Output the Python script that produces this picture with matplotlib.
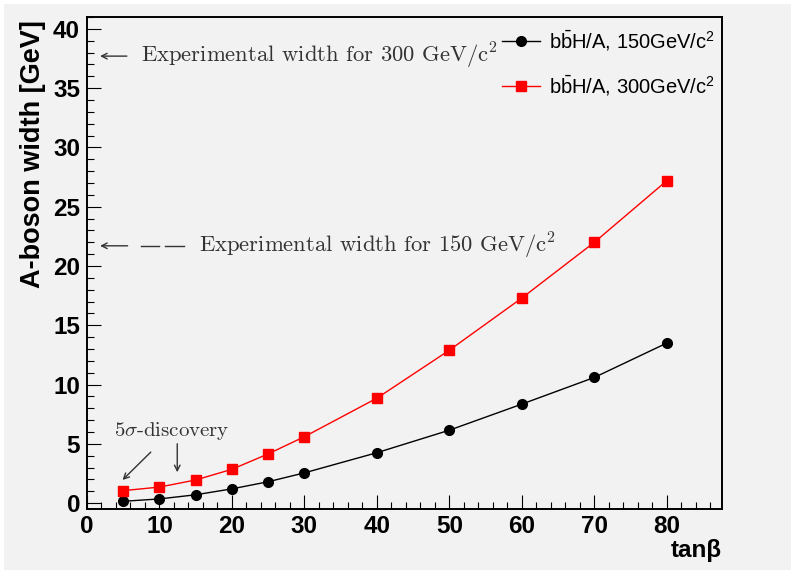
import matplotlib
matplotlib.use("Agg")
import matplotlib.pyplot as plt
from matplotlib.patches import Rectangle
from matplotlib.font_manager import FontProperties
from matplotlib.ticker import MultipleLocator

# ---- data ----
tanb = [5, 10, 15, 20, 25, 30, 40, 50, 60, 70, 80]
w150 = [0.15, 0.35, 0.7, 1.2, 1.8, 2.55, 4.25, 6.15, 8.35, 10.6, 13.5]
w300 = [1.05, 1.35, 1.95, 2.85, 4.15, 5.6, 8.85, 12.9, 17.3, 22.0, 27.2]
label150 = r"b$\bar{\mathrm{b}}$H/A, 150GeV/c$^{2}$"
label300 = r"b$\bar{\mathrm{b}}$H/A, 300GeV/c$^{2}$"
exp300_y = 37.7
exp150_y = 21.7

plt.rcParams['mathtext.fontset'] = 'custom'
plt.rcParams['mathtext.rm'] = 'Liberation Sans'
plt.rcParams['mathtext.it'] = 'Liberation Sans:italic'
plt.rcParams['mathtext.bf'] = 'Liberation Sans:bold'

W, H = 791, 570
fig = plt.figure(figsize=(W / 100, H / 100), dpi=100, facecolor='white')
bg = '#f2f2f2'
fig.patches.append(Rectangle((4 / W, 0), 1, 1 - 4 / H, transform=fig.transFigure,
                             facecolor=bg, edgecolor='none', zorder=-10))

ax = fig.add_axes([87 / W, 1 - 509 / H, (722 - 87) / W, (509 - 17) / H])
ax.set_facecolor(bg)
ax.set_xlim(0, 87.6)
ax.set_ylim(-0.5, 41)

ax.plot(tanb, w150, color='black', lw=1.0, marker='o', ms=7, label=label150)
ax.plot(tanb, w300, color='red', lw=1.0, marker='s', ms=7, mec='red', label=label300)

for s in ax.spines.values():
    s.set_linewidth(1.4)

ax.xaxis.set_major_locator(MultipleLocator(10))
ax.xaxis.set_minor_locator(MultipleLocator(2))
ax.yaxis.set_major_locator(MultipleLocator(5))
ax.yaxis.set_minor_locator(MultipleLocator(1))
ax.tick_params(which='both', direction='in', top=False, right=False, width=0.8)
ax.tick_params(which='major', length=10)
ax.tick_params(which='minor', length=5)
ax.tick_params(axis='y', which='major', pad=5)
ax.tick_params(axis='x', which='major', pad=4)
for lab in ax.get_xticklabels() + ax.get_yticklabels():
    lab.set_fontfamily('Liberation Sans')
    lab.set_fontweight('bold')
    lab.set_fontsize(17.5)

fig.text(33 / W, 1 - 154 / H, 'A-boson width [GeV]', rotation=90, ha='center', va='center',
         fontfamily='Liberation Sans', fontweight='bold', fontsize=19.5)
fig.text(722 / W, 1 - 550 / H, 'tanβ', ha='right', va='center',
         fontfamily='Liberation Sans', fontweight='bold', fontsize=17.5)

gray = '#333333'
afs = 16.3
# experimental width 300
ax.annotate('', xy=(1.8, exp300_y), xytext=(5.5, exp300_y),
            arrowprops=dict(arrowstyle='->', color=gray, lw=1.0, shrinkA=0, shrinkB=0))
ax.text(7.5, exp300_y, r'Experimental width for 300 GeV/c$^2$', ha='left', va='center',
        fontfamily='cmr10', math_fontfamily='cm', fontsize=afs, color=gray)
# experimental width 150
ax.annotate('', xy=(1.8, exp150_y), xytext=(5.6, exp150_y),
            arrowprops=dict(arrowstyle='->', color=gray, lw=1.0, shrinkA=0, shrinkB=0))
ax.plot([7.5, 10.0], [exp150_y, exp150_y], color=gray, lw=1.0)
ax.plot([10.7, 13.4], [exp150_y, exp150_y], color=gray, lw=1.0)
ax.text(15.5, exp150_y, r'Experimental width for 150 GeV/c$^2$', ha='left', va='center',
        fontfamily='cmr10', math_fontfamily='cm', fontsize=afs, color=gray)
# 5 sigma discovery
ax.text(3.7, 6.1, r'5$\sigma$-discovery', ha='left', va='center',
        fontfamily='cmr10', math_fontfamily='cm', fontsize=15, color=gray)
ax.annotate('', xy=(4.9, 1.95), xytext=(8.8, 4.3),
            arrowprops=dict(arrowstyle='->', color=gray, lw=1.0, shrinkA=0, shrinkB=0))
ax.annotate('', xy=(12.45, 2.6), xytext=(12.45, 5.0),
            arrowprops=dict(arrowstyle='->', color=gray, lw=1.0, shrinkA=0, shrinkB=0))

leg = ax.legend(loc='upper left', bbox_to_anchor=(502 / W, 1 - 28 / H),
                bbox_transform=fig.transFigure, frameon=False, borderpad=0,
                borderaxespad=0, handlelength=1.9, handletextpad=0.45, labelspacing=1.0,
                prop=FontProperties(family='Liberation Sans', size=14.5, math_fontfamily='custom'))

fig.savefig('out.png', dpi=100, facecolor='white')
